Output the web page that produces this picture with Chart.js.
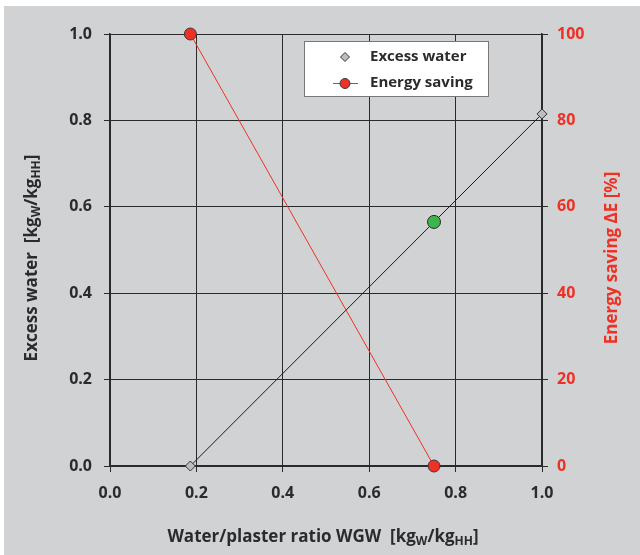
<!DOCTYPE html>
<html>
<head>
<meta charset="utf-8">
<script src="https://cdn.jsdelivr.net/npm/chart.js@4.4.1/dist/chart.umd.min.js"></script>
<style>
  html, body { margin: 0; padding: 0; background: #ffffff; }
  #wrap { position: absolute; left: 4px; top: 6px; width: 636px; height: 549px; background: #d1d2d4; }
  canvas { display: block; }
</style>
</head>
<body>
<div id="wrap"><canvas id="c" width="636" height="549"></canvas></div>
<script>
// ---- data ----
const excessX = [0.186, 1.0];
const excessY = [0.0, 0.815];
const energyX = [0.186, 0.75];
const energyY = [100, 0];
const markX = [0.75];
const markY = [0.565];
const xTicks = [0.0, 0.2, 0.4, 0.6, 0.8, 1.0];
const leftTicks = [0.0, 0.2, 0.4, 0.6, 0.8, 1.0];
const rightTicks = [0, 20, 40, 60, 80, 100];
const seriesNames = ['Excess water', 'Energy saving'];

const FONT = '"Open Sans", "DejaVu Sans", sans-serif';
const RED = '#ee3124';
const DARK = '#2b2b2b';

function toPts(xs, ys) { return xs.map((x, i) => ({ x: x, y: ys[i] })); }

function drawRich(ctx, parts, size) {
  let x = 0;
  for (const p of parts) {
    const fs = p.sub ? Math.round(size * 0.68) : size;
    ctx.font = 'bold ' + fs + 'px ' + FONT;
    ctx.fillText(p.t, x, p.sub ? size * 0.28 : 0);
    x += ctx.measureText(p.t).width;
  }
  return x;
}
function richWidth(ctx, parts, size) {
  let w = 0;
  for (const p of parts) {
    const fs = p.sub ? Math.round(size * 0.68) : size;
    ctx.font = 'bold ' + fs + 'px ' + FONT;
    w += ctx.measureText(p.t).width;
  }
  return w;
}
function drawTitle(ctx, parts, size, cx, cy, rot, color) {
  ctx.save();
  ctx.translate(cx, cy);
  if (rot) ctx.rotate(rot);
  ctx.fillStyle = color;
  ctx.textBaseline = 'middle';
  ctx.textAlign = 'left';
  const w = richWidth(ctx, parts, size);
  ctx.translate(-w / 2, 0);
  drawRich(ctx, parts, size);
  ctx.restore();
}

const overlay = {
  id: 'overlay',
  afterDraw(chart) {
    const ctx = chart.ctx;
    drawTitle(ctx, [{t:'Water/plaster ratio WGW  [kg'},{t:'W',sub:true},{t:'/kg'},{t:'HH',sub:true},{t:']'}],
      17, 319, 531, 0, DARK);
    drawTitle(ctx, [{t:'Excess water  [kg'},{t:'W',sub:true},{t:'/kg'},{t:'HH',sub:true},{t:']'}],
      17, 28, 252, -Math.PI / 2, DARK);
    drawTitle(ctx, [{t:'Energy saving ΔE [%]'}], 17, 608, 252, -Math.PI / 2, RED);

    // legend box
    const bx = 300, by = 35, bw = 184, bh = 55;
    ctx.save();
    ctx.fillStyle = '#ffffff';
    ctx.fillRect(bx, by, bw, bh);
    ctx.strokeStyle = '#777777';
    ctx.lineWidth = 1;
    ctx.strokeRect(bx + 0.5, by + 0.5, bw, bh);
    const ds0 = chart.data.datasets[0], ds1 = chart.data.datasets[1];
    const mx = 341, y1 = 51, y2 = 77;
    ctx.fillStyle = ds0.pointBackgroundColor;
    ctx.strokeStyle = ds0.pointBorderColor;
    ctx.beginPath();
    ctx.moveTo(mx, y1 - 4.5); ctx.lineTo(mx + 4.5, y1); ctx.lineTo(mx, y1 + 4.5); ctx.lineTo(mx - 4.5, y1); ctx.closePath();
    ctx.fill(); ctx.stroke();
    ctx.strokeStyle = ds1.borderColor;
    ctx.beginPath(); ctx.moveTo(329, y2 + 0.5); ctx.lineTo(354, y2 + 0.5); ctx.stroke();
    ctx.fillStyle = ds1.pointBackgroundColor;
    ctx.strokeStyle = ds1.pointBorderColor;
    ctx.beginPath(); ctx.arc(mx, y2 + 0.5, 5, 0, Math.PI * 2); ctx.fill(); ctx.stroke();
    ctx.fillStyle = DARK;
    ctx.font = 'bold 15px ' + FONT;
    ctx.textBaseline = 'middle';
    ctx.textAlign = 'left';
    ctx.fillText(ds0.label, 366, y1);
    ctx.fillText(ds1.label, 366, y2);
    ctx.restore();
  }
};

const tickFont = { family: FONT, size: 16, weight: 'bold' };

new Chart(document.getElementById('c'), {
  type: 'scatter',
  data: {
    datasets: [
      {
        label: seriesNames[0],
        data: toPts(excessX, excessY),
        yAxisID: 'y',
        showLine: true,
        borderColor: '#1a1a1a',
        borderWidth: 1,
        pointStyle: 'rectRot',
        pointRadius: 5,
        pointBackgroundColor: '#bdbdbd',
        pointBorderColor: '#333333',
        pointBorderWidth: 1,
        clip: false,
        order: 2
      },
      {
        label: seriesNames[1],
        data: toPts(energyX, energyY),
        yAxisID: 'y2',
        showLine: true,
        borderColor: RED,
        borderWidth: 1,
        pointStyle: 'circle',
        pointRadius: 6,
        pointBackgroundColor: RED,
        pointBorderColor: '#3a3a3a',
        pointBorderWidth: 1,
        clip: false,
        order: 1
      },
      {
        label: '',
        data: toPts(markX, markY),
        yAxisID: 'y',
        showLine: false,
        pointStyle: 'circle',
        pointRadius: 6.5,
        pointBackgroundColor: '#3cb54a',
        pointBorderColor: '#2b2b2b',
        pointBorderWidth: 1,
        clip: false,
        order: 0
      }
    ]
  },
  options: {
    responsive: false,
    animation: false,
    layout: { padding: { top: 28, left: 0, right: 0, bottom: 0 } },
    plugins: { legend: { display: false }, tooltip: { enabled: false } },
    scales: {
      x: {
        type: 'linear',
        min: 0, max: 1,
        afterBuildTicks: (s) => { s.ticks = xTicks.map(v => ({ value: v })); },
        afterFit: (s) => { s.height = 89; },
        grid: { color: '#2a2a2a', lineWidth: 1, tickLength: 6, drawTicks: true },
        border: { color: '#2a2a2a', width: 1.5 },
        ticks: { color: DARK, font: tickFont, padding: 12, callback: (v) => v.toFixed(1), maxRotation: 0 }
      },
      y: {
        type: 'linear',
        position: 'left',
        min: 0, max: 1,
        afterBuildTicks: (s) => { s.ticks = leftTicks.map(v => ({ value: v })); },
        afterFit: (s) => { s.width = 106; },
        grid: { color: '#2a2a2a', lineWidth: 1, tickLength: 6 },
        border: { color: '#2a2a2a', width: 1.5 },
        ticks: { color: DARK, font: tickFont, padding: 12, callback: (v) => v.toFixed(1) }
      },
      y2: {
        type: 'linear',
        position: 'right',
        min: 0, max: 100,
        afterBuildTicks: (s) => { s.ticks = rightTicks.map(v => ({ value: v })); },
        afterFit: (s) => { s.width = 98; },
        grid: { color: '#2a2a2a', lineWidth: 1, tickLength: 6, drawOnChartArea: false },
        border: { color: '#2a2a2a', width: 1.5 },
        ticks: { color: RED, font: tickFont, padding: 9, callback: (v) => String(v) }
      }
    }
  },
  plugins: [overlay]
});
</script>
</body>
</html>
